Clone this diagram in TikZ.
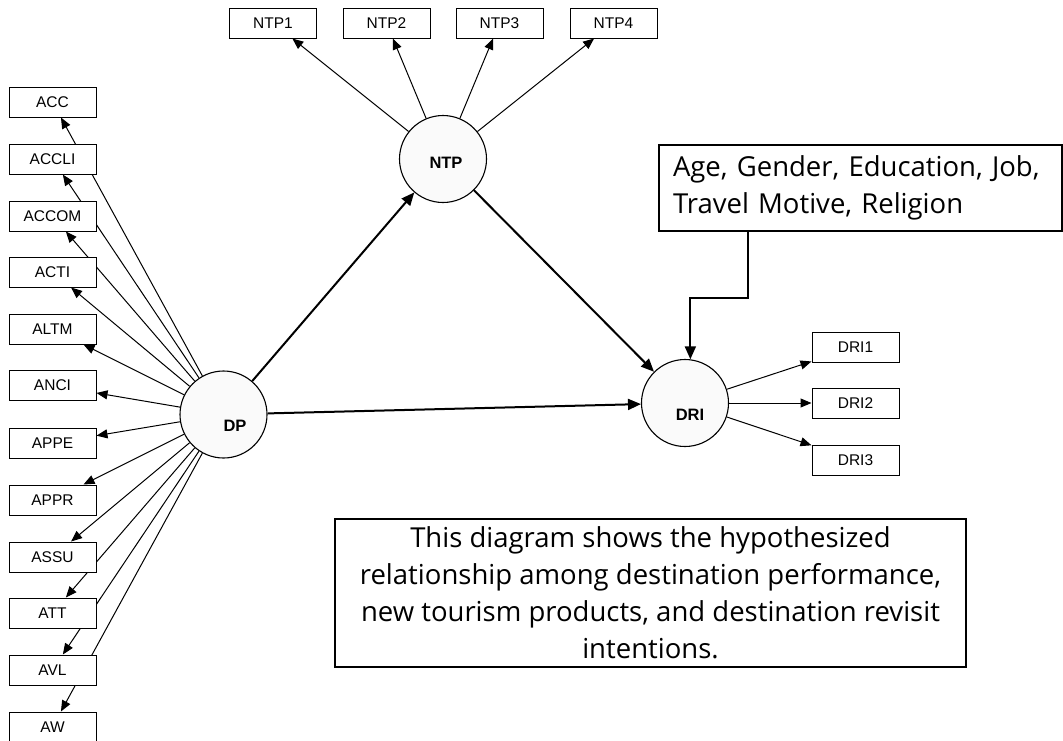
\documentclass[tikz,border=0pt]{standalone}
\usepackage{fontspec}
\setmainfont{Liberation Sans}
\newfontfamily\bigfont{Open Sans}
\usetikzlibrary{arrows.meta,backgrounds,calc}
\begin{document}
\begin{tikzpicture}[x=1pt,y=-1pt,
  ind/.style={draw, fill=white, minimum width=87pt, minimum height=30pt, inner sep=0pt,
    font=\fontsize{15.5}{18}\selectfont, line width=1pt},
  lat/.style={circle, draw, fill=gray!4, minimum size=87pt, inner sep=0pt, line width=1.1pt},
  latlab/.style={font=\bfseries\fontsize{16.5}{19}\selectfont},
  arr/.style={-{Triangle[length=11pt,width=9pt]}, line width=1pt},
  arrb/.style={-{Triangle[length=13pt,width=11pt]}, line width=2pt},
  txtbox/.style={draw, fill=white, line width=1.6pt, inner sep=0pt,
    font=\bigfont\fontsize{27.5}{37}\selectfont}]
\useasboundingbox (0,0) rectangle (1063,740);

% latent variables
\node[lat, label={[latlab, xshift=11.5pt, yshift=-11.5pt]center:DP}] (DP) at (223.5,414.5) {};
\node[lat, label={[latlab, xshift=3pt, yshift=-4pt]center:NTP}] (NTP) at (443,159) {};
\node[lat, label={[latlab, xshift=5pt, yshift=-12pt]center:DRI}] (DRI) at (685,403) {};

% DP indicators
\node[ind] (ACC)   at (52.5,102) {ACC};
\node[ind] (ACCLI) at (52.5,159) {ACCLI};
\node[ind] (ACCOM) at (52.5,216) {ACCOM};
\node[ind] (ACTI)  at (52.5,272) {ACTI};
\node[ind] (ALTM)  at (52.5,329) {ALTM};
\node[ind] (ANCI)  at (52.5,385.5) {ANCI};
\node[ind] (APPE)  at (52.5,443) {APPE};
\node[ind] (APPR)  at (52.5,500) {APPR};
\node[ind] (ASSU)  at (52.5,557) {ASSU};
\node[ind] (ATT)   at (52.5,613) {ATT};
\node[ind] (AVL)   at (52.5,670) {AVL};
\node[ind] (AW)    at (52.5,727) {AW};

% NTP indicators
\node[ind] (NTP1) at (273,23) {NTP1};
\node[ind] (NTP2) at (386.5,23) {NTP2};
\node[ind] (NTP3) at (499.5,23) {NTP3};
\node[ind] (NTP4) at (613.5,23) {NTP4};

% DRI indicators
\node[ind] (DRI1) at (855.5,347) {DRI1};
\node[ind] (DRI2) at (855.5,403) {DRI2};
\node[ind] (DRI3) at (855.5,460) {DRI3};

% covariates box
\node[txtbox, minimum width=403pt, minimum height=86pt, text width=375pt,
      align=left, inner xsep=14pt] (cov) at (860.5,188)
  {Age, Gender, Education, Job,\\Travel Motive, Religion};

% description box
\node[txtbox, minimum width=631pt, minimum height=148pt, align=center] (desc) at (650.5,593)
  {This diagram shows the hypothesized\\relationship among destination performance,\\new tourism products, and destination revisit\\intentions.};

\coordinate (k1) at (748,231);
\coordinate (k2) at (748,298);

\begin{pgfonlayer}{background}
  \foreach \t in {ACC,ACCLI,ACCOM,ACTI,ALTM,ANCI,APPE,APPR,ASSU,ATT,AVL,AW}
    \draw[arr] (DP) -- (\t);
  \foreach \t in {NTP1,NTP2,NTP3,NTP4}
    \draw[arr] (NTP) -- (\t);
  \foreach \t in {DRI1,DRI2,DRI3}
    \draw[arr] (DRI) -- (\t);
\end{pgfonlayer}

\draw[arrb] (DP) -- (NTP);
\draw[arrb] (NTP) -- (DRI);
\draw[arrb] (DP) -- (DRI);
\draw[arrb] (k1) -- (k2) -| (DRI.83);
\end{tikzpicture}
\end{document}
